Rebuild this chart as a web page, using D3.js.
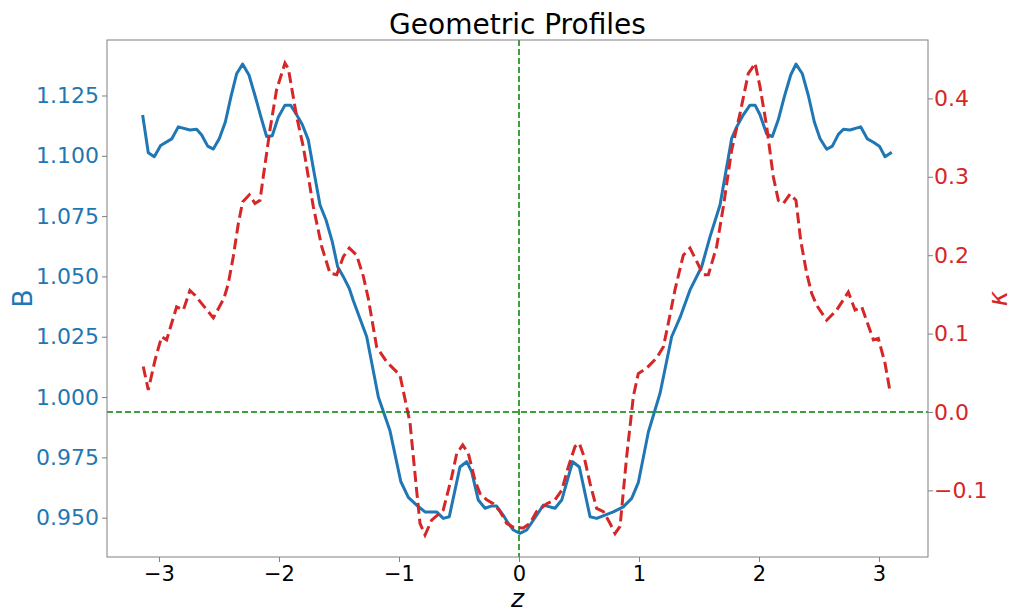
<!DOCTYPE html>
<html>
<head>
<meta charset="utf-8">
<script src="https://cdn.jsdelivr.net/npm/d3@7"></script>
<style>
  body { margin: 0; background: #fff; }
  svg text { font-family: "DejaVu Sans", sans-serif; }
</style>
</head>
<body>
<svg id="chart"></svg>
<script>
'use strict';

// B(z) profile
var zB = [-3.136, -3.089, -3.039, -2.986, -2.894, -2.839, -2.742, -2.686, -2.644, -2.594,
  -2.547, -2.497, -2.447, -2.400, -2.353, -2.303, -2.250, -2.200, -2.150, -2.103,
  -2.056, -2.006, -1.950, -1.903, -1.853, -1.806, -1.756, -1.706, -1.658, -1.608,
  -1.556, -1.511, -1.464, -1.414, -1.381, -1.269, -1.172, -1.075, -0.985, -0.922,
  -0.853, -0.783, -0.686, -0.631, -0.581, -0.492, -0.436, -0.394, -0.339, -0.283,
  -0.233, -0.186, -0.131, -0.089, -0.047, 0.008, 0.064, 0.147, 0.203, 0.300,
  0.356, 0.447, 0.503, 0.592, 0.647, 0.786, 0.869, 0.939, 0.994, 1.078,
  1.175, 1.272, 1.342, 1.425, 1.522, 1.592, 1.675, 1.772, 1.814, 1.869,
  1.925, 1.967, 2.008, 2.064, 2.111, 2.161, 2.211, 2.264, 2.308, 2.361,
  2.411, 2.461, 2.508, 2.564, 2.611, 2.661, 2.703, 2.758, 2.847, 2.903,
  2.953, 3.003, 3.050, 3.106];
var bValues = [1.1169, 1.1013, 1.0996, 1.1043, 1.1070, 1.1120, 1.1107, 1.1110, 1.1086, 1.1040,
  1.1028, 1.1072, 1.1140, 1.1245, 1.1340, 1.1380, 1.1335, 1.1250, 1.1160, 1.1080,
  1.1083, 1.1160, 1.1210, 1.1210, 1.1170, 1.1130, 1.1066, 1.0927, 1.0796, 1.0734,
  1.0644, 1.0540, 1.0499, 1.0450, 1.0400, 1.0250, 1.0000, 0.9860, 0.9650, 0.9584,
  0.9552, 0.9524, 0.9524, 0.9497, 0.9504, 0.9710, 0.9732, 0.9690, 0.9573, 0.9539,
  0.9548, 0.9548, 0.9510, 0.9476, 0.9449, 0.9435, 0.9449, 0.9510, 0.9552, 0.9539,
  0.9573, 0.9732, 0.9710, 0.9504, 0.9497, 0.9524, 0.9545, 0.9580, 0.9645, 0.9855,
  1.0015, 1.0250, 1.0330, 1.0444, 1.0540, 1.0665, 1.0796, 1.1072, 1.1120, 1.1170,
  1.1210, 1.1210, 1.1170, 1.1090, 1.1080, 1.1150, 1.1245, 1.1335, 1.1380, 1.1340,
  1.1250, 1.1140, 1.1072, 1.1027, 1.1040, 1.1089, 1.1110, 1.1107, 1.1120, 1.1070,
  1.1056, 1.1040, 1.0996, 1.1015];

// kappa(z) profile
var zK = [-3.131, -3.089, -3.033, -2.978, -2.936, -2.853, -2.797, -2.742, -2.700, -2.547,
  -2.458, -2.422, -2.381, -2.339, -2.303, -2.247, -2.200, -2.158, -2.131, -2.075,
  -2.020, -1.950, -1.922, -1.853, -1.797, -1.714, -1.644, -1.575, -1.519, -1.464,
  -1.414, -1.353, -1.297, -1.256, -1.186, -1.103, -0.992, -0.908, -0.853, -0.825,
  -0.783, -0.728, -0.631, -0.561, -0.519, -0.469, -0.422, -0.367, -0.325, -0.269,
  -0.214, -0.158, -0.103, -0.047, 0.036, 0.092, 0.147, 0.231, 0.300, 0.356,
  0.411, 0.467, 0.503, 0.542, 0.592, 0.647, 0.703, 0.758, 0.800, 0.842,
  0.897, 0.953, 0.994, 1.064, 1.147, 1.203, 1.244, 1.300, 1.369, 1.425,
  1.481, 1.536, 1.578, 1.647, 1.703, 1.772, 1.842, 1.911, 1.939, 1.967,
  2.008, 2.064, 2.119, 2.161, 2.203, 2.258, 2.308, 2.347, 2.397, 2.439,
  2.481, 2.564, 2.647, 2.744, 2.800, 2.856, 2.953, 2.994, 3.050, 3.092];
var kValues = [0.058, 0.028, 0.066, 0.096, 0.092, 0.134, 0.130, 0.155, 0.149, 0.120,
  0.145, 0.164, 0.198, 0.240, 0.268, 0.277, 0.266, 0.270, 0.300, 0.360,
  0.411, 0.445, 0.438, 0.377, 0.338, 0.262, 0.211, 0.177, 0.175, 0.198,
  0.209, 0.200, 0.173, 0.145, 0.083, 0.064, 0.047, -0.014, -0.100, -0.142,
  -0.157, -0.138, -0.125, -0.083, -0.053, -0.042, -0.053, -0.087, -0.104, -0.112,
  -0.117, -0.127, -0.142, -0.147, -0.148, -0.142, -0.127, -0.117, -0.112, -0.100,
  -0.070, -0.044, -0.040, -0.057, -0.091, -0.123, -0.127, -0.142, -0.155, -0.146,
  -0.057, 0.020, 0.049, 0.056, 0.069, 0.083, 0.113, 0.156, 0.200, 0.209,
  0.192, 0.175, 0.175, 0.211, 0.262, 0.334, 0.381, 0.432, 0.438, 0.445,
  0.415, 0.364, 0.300, 0.270, 0.266, 0.278, 0.270, 0.219, 0.177, 0.151,
  0.136, 0.117, 0.130, 0.153, 0.130, 0.134, 0.092, 0.094, 0.062, 0.026];

var zTicks = [-3, -2, -1, 0, 1, 2, 3];
var bTicks = [0.950, 0.975, 1.000, 1.025, 1.050, 1.075, 1.100, 1.125];
var kTicks = [-0.1, 0.0, 0.1, 0.2, 0.3, 0.4];

var width = 1014,
  height = 612,
  plotLeft = 107,
  plotRight = 928,
  plotTop = 40,
  plotBottom = 557,
  blue = '#1f77b4',
  red = '#d62728',
  green = '#008000',
  frameColor = '#808080',
  xTickFont = 21,
  yTickFont = 22;

var svg = d3.select('#chart').attr('width', width).attr('height', height);

var x = d3.scaleLinear().domain([-3.433, 3.408]).range([plotLeft, plotRight]);
var yB = d3.scaleLinear().domain([0.9337, 1.148]).range([plotBottom, plotTop]);
var yK = d3.scaleLinear().domain([-0.185, 0.4745]).range([plotBottom, plotTop]);

function minus(s) {
  return s.replace('-', '\u2212');
}

function styleAxis(g, color, size) {
  g.select('.domain').remove();
  g.selectAll('.tick line').attr('stroke', frameColor).attr('stroke-width', 1);
  g.selectAll('.tick text').attr('fill', color).attr('font-size', size)
    .attr('font-family', '"DejaVu Sans", sans-serif');
}

svg.append('g').attr('transform', 'translate(0,' + plotBottom + ')')
  .call(d3.axisBottom(x).tickValues(zTicks).tickSize(5).tickPadding(4)
    .tickFormat(function (d) { return minus(d3.format('d')(d)); }))
  .call(function (g) { styleAxis(g, '#000', xTickFont); });

svg.append('g').attr('transform', 'translate(' + plotLeft + ',0)')
  .call(d3.axisLeft(yB).tickValues(bTicks).tickSize(5).tickPadding(3)
    .tickFormat(d3.format('.3f')))
  .call(function (g) { styleAxis(g, blue, yTickFont); });

svg.append('g').attr('transform', 'translate(' + plotRight + ',0)')
  .call(d3.axisRight(yK).tickValues(kTicks).tickSize(5).tickPadding(1)
    .tickFormat(function (d) { return minus(d3.format('.1f')(d)); }))
  .call(function (g) { styleAxis(g, red, yTickFont); });

// data lines
var lineB = d3.line().x(function (d, i) { return x(zB[i]); }).y(function (d) { return yB(d); });
var lineK = d3.line().x(function (d, i) { return x(zK[i]); }).y(function (d) { return yK(d); });

svg.append('path').datum(bValues).attr('d', lineB)
  .attr('fill', 'none').attr('stroke', blue).attr('stroke-width', 3)
  .attr('stroke-linejoin', 'round');

svg.append('path').datum(kValues).attr('d', lineK)
  .attr('fill', 'none').attr('stroke', red).attr('stroke-width', 3)
  .attr('stroke-dasharray', '11,5');

// reference lines
svg.append('line')
  .attr('x1', x(0)).attr('x2', x(0)).attr('y1', plotTop).attr('y2', plotBottom)
  .attr('stroke', green).attr('stroke-width', 1.5).attr('stroke-dasharray', '6,3');
svg.append('line')
  .attr('x1', plotLeft).attr('x2', plotRight).attr('y1', yK(0)).attr('y2', yK(0))
  .attr('stroke', green).attr('stroke-width', 1.5).attr('stroke-dasharray', '6,3');

// frame
svg.append('rect').attr('x', plotLeft).attr('y', plotTop)
  .attr('width', plotRight - plotLeft).attr('height', plotBottom - plotTop)
  .attr('fill', 'none').attr('stroke', frameColor).attr('stroke-width', 1);

// labels
svg.append('text').attr('x', (plotLeft + plotRight) / 2).attr('y', 34)
  .attr('text-anchor', 'middle').attr('font-size', 28).attr('fill', '#000')
  .text('Geometric Profiles');

svg.append('text').attr('x', (plotLeft + plotRight) / 2).attr('y', 607)
  .attr('text-anchor', 'middle').attr('font-size', 25).attr('font-style', 'italic')
  .attr('fill', '#000').text('z');

svg.append('text').attr('transform', 'translate(32,' + ((plotTop + plotBottom) / 2) + ') rotate(-90)')
  .attr('text-anchor', 'middle').attr('font-size', 27).attr('fill', blue).text('B');

svg.append('text').attr('transform', 'translate(1007,' + ((plotTop + plotBottom) / 2) + ') rotate(-90)')
  .attr('text-anchor', 'middle').attr('font-size', 26).attr('font-style', 'italic')
  .attr('fill', red).text('\u03ba');
</script>
</body>
</html>
